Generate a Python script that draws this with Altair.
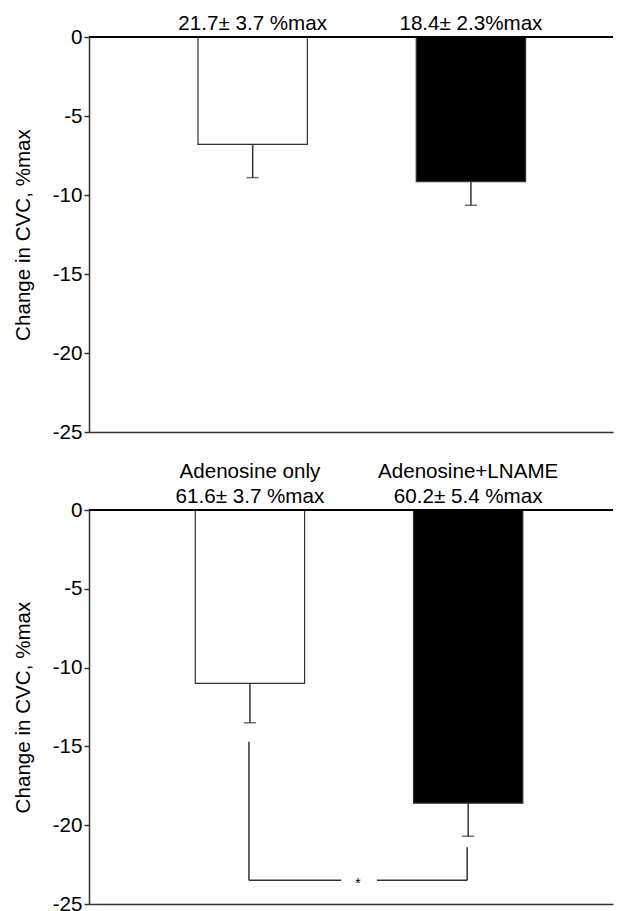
import altair as alt
import pandas as pd

# ---- data ----
conditions = ["Adenosine only", "Adenosine+LNAME"]
bar_fills = ["white", "black"]

top_means = [-6.8, -9.15]
top_sems = [2.1, 1.5]
top_labels = ["21.7\u00b1 3.7 %max", "18.4\u00b1 2.3%max"]

bottom_means = [-11.0, -18.6]
bottom_sems = [2.5, 2.1]
bottom_labels = ["61.6\u00b1 3.7 %max", "60.2\u00b1 5.4 %max"]

y_ticks = [0, -5, -10, -15, -20, -25]
bracket_tops = [-14.7, -21.4]
bracket_level = -23.5
sig_text = "*"

FONT = "Liberation Sans"
FS = 20.6
GREY = "#333333"


def panel(means, sems, labels, show_names, align, height):
    df = pd.DataFrame({
        "cond": conditions,
        "mean": means,
        "low": [m - s for m, s in zip(means, sems)],
        "label": labels,
    })
    x = alt.X(
        "cond:N",
        scale=alt.Scale(domain=conditions, paddingInner=0.499, paddingOuter=0.45, align=align),
        axis=alt.Axis(labels=False, ticks=False, title=None, domainColor=GREY, domainWidth=1.5),
    )
    y = alt.Y(
        "mean:Q",
        scale=alt.Scale(domain=[-25, 0], nice=False, zero=False),
        axis=alt.Axis(
            title="Change in CVC, %max", values=y_ticks, labelExpr="'' + datum.value",
            grid=False, tickSize=5, tickColor=GREY, domainColor=GREY, domainWidth=1.5,
            tickWidth=1.5, labelFontSize=FS, labelFont=FONT, labelColor="black",
            labelPadding=2, titleFontSize=FS, titleFont=FONT, titleFontWeight="normal",
            titleColor="black", titlePadding=19,
        ),
    )
    base = alt.Chart(df)
    bars = base.mark_bar(stroke=GREY, strokeWidth=1.2).encode(
        x=x, y=y, y2=alt.datum(0),
        fill=alt.Fill("cond:N", scale=alt.Scale(domain=conditions, range=bar_fills), legend=None),
    )
    err = base.mark_rule(color=GREY, strokeWidth=1.5).encode(x="cond:N", y="mean:Q", y2="low:Q")
    caps = base.mark_tick(color=GREY, thickness=1.5, size=12, orient="horizontal").encode(
        x="cond:N", y="low:Q")
    zero = base.mark_rule(color="black", strokeWidth=2).encode(y=alt.datum(0))
    vals = base.mark_text(fontSize=FS, font=FONT, baseline="alphabetic", dy=-7, color="black").encode(
        x="cond:N", y=alt.datum(0), text="label:N")
    layers = [bars, err, caps, zero, vals]
    if show_names:
        names = base.mark_text(fontSize=FS, font=FONT, baseline="alphabetic", dy=-32, color="black").encode(
            x="cond:N", y=alt.datum(0), text="cond:N")
        layers.append(names)
        bdf = pd.DataFrame({"cond": conditions, "top": bracket_tops})
        vert = alt.Chart(bdf).mark_rule(color=GREY, strokeWidth=1.5, xOffset=-1).encode(
            x="cond:N", y="top:Q", y2=alt.datum(bracket_level))
        hdf = pd.DataFrame({"from": [conditions[0]], "to": [conditions[1]],
                            "level": [bracket_level], "sig": [sig_text]})
        h1 = alt.Chart(hdf).mark_rule(color=GREY, strokeWidth=1.5, xOffset=-1, x2Offset=-127).encode(
            x="from:N", x2="to:N", y="level:Q")
        h2 = alt.Chart(hdf).mark_rule(color=GREY, strokeWidth=1.5, xOffset=127, x2Offset=-1).encode(
            x="from:N", x2="to:N", y="level:Q")
        star = alt.Chart(hdf).mark_text(fontSize=14, font=FONT, baseline="alphabetic", dx=108, dy=8,
                                        color="black").encode(x="from:N", y="level:Q", text="sig:N")
        layers += [vert, h1, h2, star]
    return alt.layer(*layers).properties(width=524, height=height)


top = panel(top_means, top_sems, top_labels, False, 0.555, 395)
bottom = panel(bottom_means, bottom_sems, bottom_labels, True, 0.541, 394)

chart = alt.vconcat(top, bottom, spacing=19).properties(
    padding={"left": 5, "top": 6, "right": 0, "bottom": 0}
).configure_view(stroke=None).configure_concat(spacing=19)

chart.save("out.html", embed_options={"renderer": "svg", "actions": False})
